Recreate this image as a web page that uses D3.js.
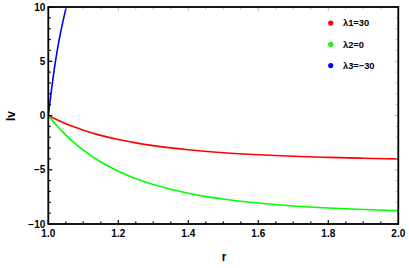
<!DOCTYPE html>
<html><head><meta charset="utf-8">
<script src="https://cdn.jsdelivr.net/npm/d3@7"></script>
<style>body{margin:0;background:#fff}svg{display:block}text{font-family:"Liberation Sans",Arial,sans-serif;font-weight:bold}</style>
</head><body>
<svg id="c" width="409" height="268"></svg>
<script>
const rVals = [1.0,1.025,1.05,1.075,1.1,1.15,1.2,1.25,1.3,1.4,1.5,1.6,1.7,1.8,1.9,2.0];
const lambda1 = [0,-0.40,-0.76,-1.07,-1.35,-1.83,-2.21,-2.52,-2.78,-3.16,-3.43,-3.62,-3.76,-3.86,-3.94,-4.00];
const lambda2 = [0,-0.96,-1.81,-2.55,-3.20,-4.29,-5.14,-5.82,-6.36,-7.16,-7.70,-8.07,-8.34,-8.53,-8.67,-8.77];
const rBlue = [1.0,1.01,1.02,1.03,1.04,1.05,1.06];
const lambda3 = [0,2.6,4.9,6.8,8.4,9.8,11.1];
const seriesNames = ["\u03bb1=30","\u03bb2=0","\u03bb3=\u221230"];
const xTicks = [1.0,1.2,1.4,1.6,1.8,2.0];
const yTicks = [-10,-5,0,5,10];

const svg = d3.select("#c");
const L=48.3,R=398.3,T=7,B=224;
const x = d3.scaleLinear().domain([1,2]).range([L,R]);
const y = d3.scaleLinear().domain([-10,10]).range([B,T]);

svg.append("defs").append("clipPath").attr("id","clip").append("rect")
  .attr("x",L).attr("y",T).attr("width",R-L).attr("height",B-T);

const line = d3.line().x(d=>x(d[0])).y(d=>y(d[1])).curve(d3.curveMonotoneX);
const g = svg.append("g").attr("clip-path","url(#clip)");
const series = [
  {r:rVals,v:lambda1,c:"#ff0000"},
  {r:rVals,v:lambda2,c:"#00ff00"},
  {r:rBlue,v:lambda3,c:"#0000ff"}
];
series.forEach(s=>{
  g.append("path").datum(s.r.map((r,i)=>[r,s.v[i]]))
   .attr("d",line).attr("fill","none").attr("stroke",s.c).attr("stroke-width",1.6);
});

// minor / major ticks
const xMinor = d3.range(1,2.0001,0.05);
const yMinor = d3.range(-10,10.0001,1);
const tk = svg.append("g");
xMinor.forEach(v=>{
  const major = xTicks.some(t=>Math.abs(t-v)<1e-6);
  const len = major?4:2.5;
  tk.append("line").attr("x1",x(v)).attr("x2",x(v)).attr("y1",B).attr("y2",B-len).attr("stroke","#000").attr("stroke-width",1.2);
  tk.append("line").attr("x1",x(v)).attr("x2",x(v)).attr("y1",T).attr("y2",T+len).attr("stroke","#bbb").attr("stroke-width",1);
});
yMinor.forEach(v=>{
  const major = yTicks.some(t=>Math.abs(t-v)<1e-6);
  const len = major?4:2.5;
  tk.append("line").attr("y1",y(v)).attr("y2",y(v)).attr("x1",L).attr("x2",L+len).attr("stroke","#000").attr("stroke-width",1.2);
  tk.append("line").attr("y1",y(v)).attr("y2",y(v)).attr("x1",R).attr("x2",R-len).attr("stroke","#bbb").attr("stroke-width",1);
});

// frame
svg.append("rect").attr("x",L).attr("y",T).attr("width",R-L).attr("height",B-T)
  .attr("fill","none").attr("stroke","#000").attr("stroke-width",1.8);

// tick labels
const fmtY = d=> d<0 ? "\u2212"+Math.abs(d) : String(d);
svg.append("g").selectAll("text").data(xTicks).join("text")
  .attr("x",d=>x(d)).attr("y",B+13).attr("text-anchor","middle")
  .attr("font-size",10).text(d=>d.toFixed(1));
svg.append("g").selectAll("text").data(yTicks).join("text")
  .attr("x",L-3).attr("y",d=>y(d)+3.5).attr("text-anchor","end")
  .attr("font-size",10).text(fmtY);

// axis titles
svg.append("text").attr("x",224).attr("y",261).attr("text-anchor","middle").attr("font-size",12).text("r");
svg.append("text").attr("transform","translate(15,116) rotate(-90)").attr("text-anchor","middle").attr("font-size",12).text("Iv");

// legend
const lg = svg.append("g");
const colors = ["#ff0000","#00ff00","#0000ff"];
seriesNames.forEach((n,i)=>{
  const yy = 23 + i*21.3;
  lg.append("circle").attr("cx",330.7).attr("cy",yy).attr("r",2.6).attr("fill",colors[i]);
  lg.append("text").attr("x",343).attr("y",yy+3.3).attr("font-size",9.3).text(n);
});
</script>
</body></html>
